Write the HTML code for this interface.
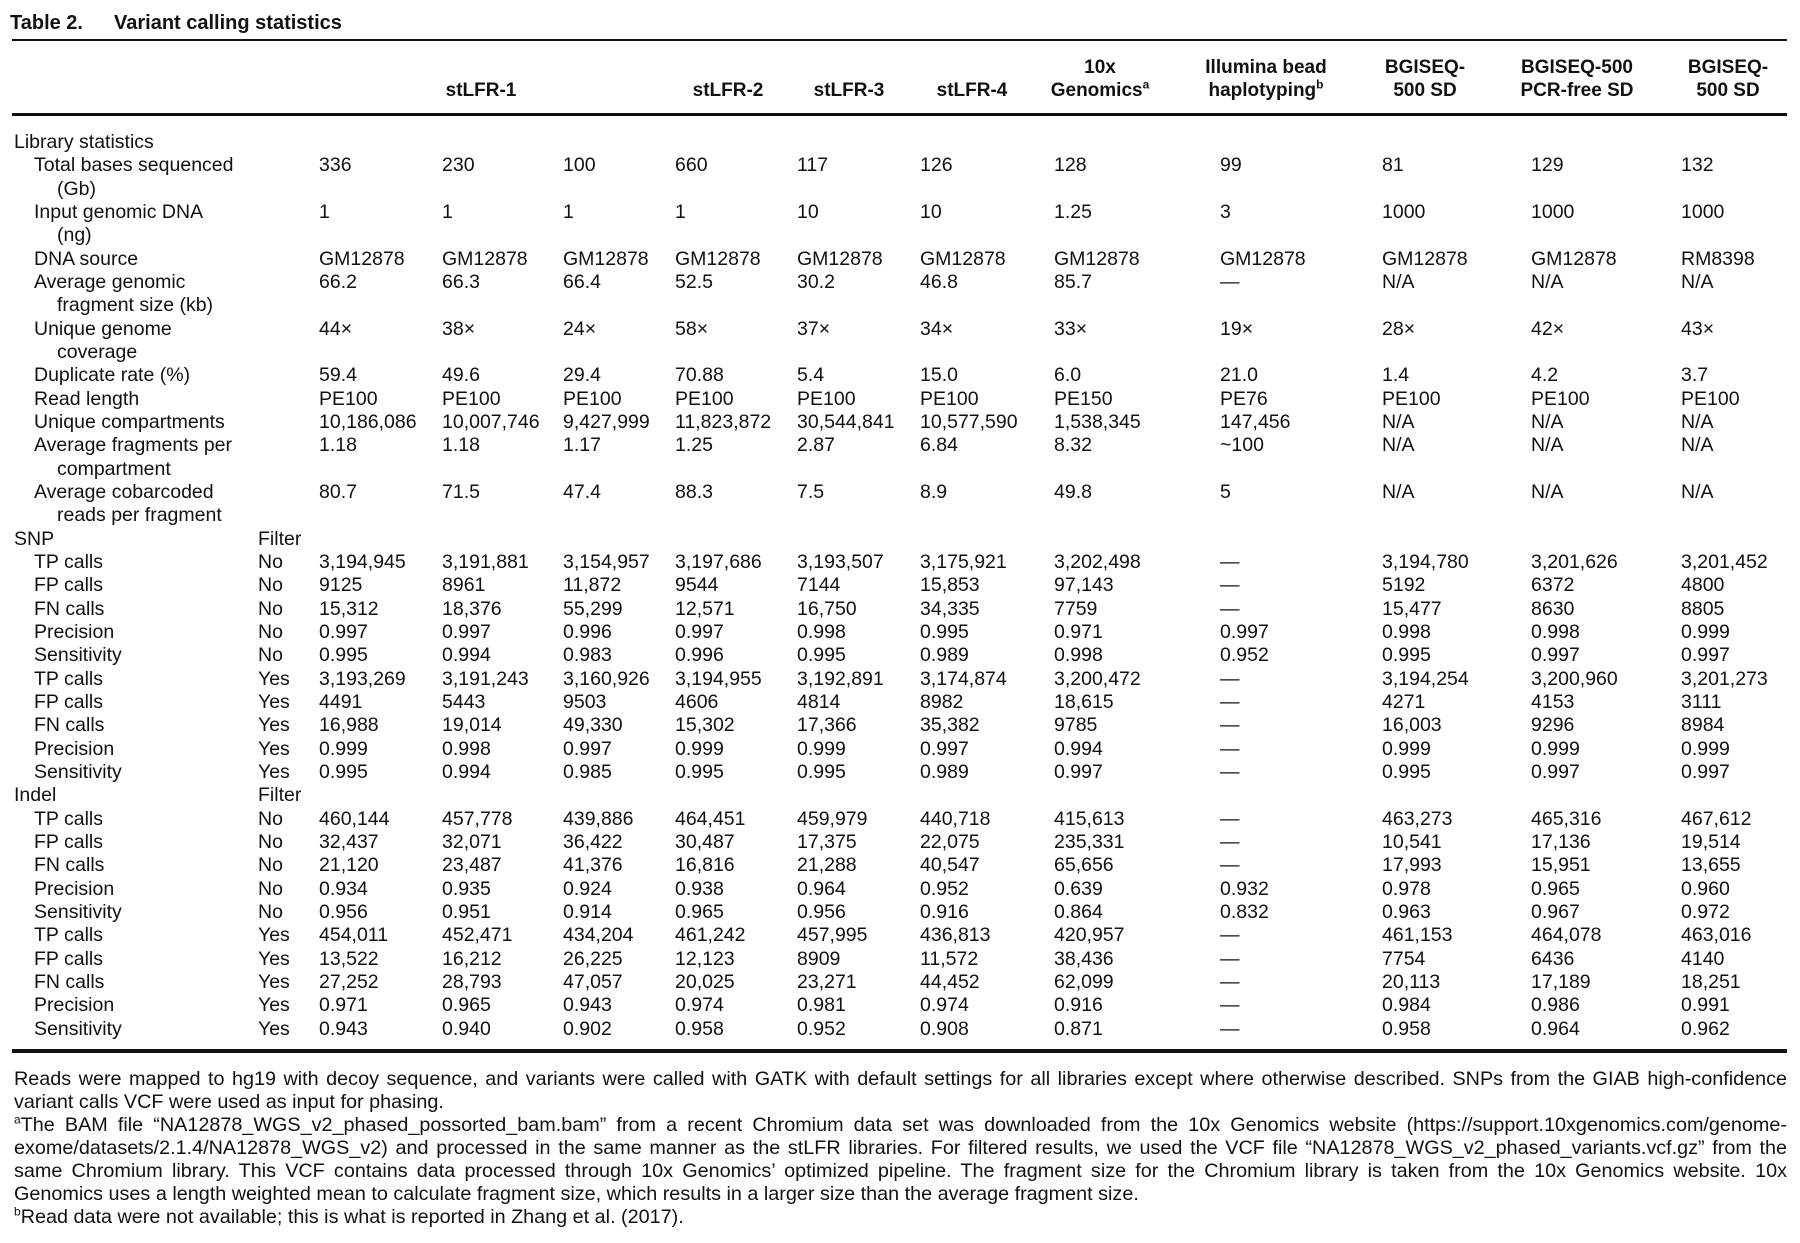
<!DOCTYPE html>
<html><head><meta charset="utf-8"><style>
body{margin:0;background:#fff;}
#p{position:relative;width:1800px;height:1243px;overflow:hidden;font-family:"Liberation Sans",sans-serif;color:#111;font-size:19.5px;}
.r{position:absolute;left:0;width:1800px;height:24px;line-height:24px;white-space:nowrap;}
.r span{position:absolute;top:0;}
.a{left:14px}.b{left:34px}.c{left:57px}.f{left:258px}
.d1{left:319px}.d2{left:442px}.d3{left:563px}.d4{left:675px}.d5{left:797px}.d6{left:920px}.d7{left:1054px}.d8{left:1220px}.d9{left:1382px}.d10{left:1531px}.d11{left:1681px}
.rule{position:absolute;left:12px;width:1775px;background:#111;}
.h{position:absolute;width:220px;text-align:center;font-weight:bold;line-height:24px;white-space:nowrap;font-size:19px;}
.fn{position:absolute;left:14px;width:1773px;font-size:19.8px;line-height:23px;white-space:nowrap;}
.j{text-align:justify;text-align-last:justify;}
sup{font-size:12px;line-height:0;}
</style></head><body><div id="p">
<div style="position:absolute;left:10px;top:10px;font-size:20px;font-weight:bold;line-height:26px;">Table 2.<span style="position:absolute;left:104px;white-space:nowrap;">Variant calling statistics</span></div>
<div class="rule" style="top:39px;height:2px"></div>
<div class="rule" style="top:113px;height:3px"></div>
<div class="rule" style="top:1049px;height:4px"></div>

<div class="h" style="left:371px;top:79px">stLFR-1</div>
<div class="h" style="left:618px;top:79px">stLFR-2</div>
<div class="h" style="left:739px;top:79px">stLFR-3</div>
<div class="h" style="left:862px;top:79px">stLFR-4</div>
<div class="h" style="left:990px;top:56px">10x</div>
<div class="h" style="left:990px;top:79px">Genomics<sup>a</sup></div>
<div class="h" style="left:1156px;top:56px">Illumina bead</div>
<div class="h" style="left:1156px;top:79px">haplotyping<sup>b</sup></div>
<div class="h" style="left:1315px;top:56px">BGISEQ-</div>
<div class="h" style="left:1315px;top:79px">500 SD</div>
<div class="h" style="left:1467px;top:56px">BGISEQ-500</div>
<div class="h" style="left:1467px;top:79px">PCR-free SD</div>
<div class="h" style="left:1618px;top:56px">BGISEQ-</div>
<div class="h" style="left:1618px;top:79px">500 SD</div>

<div class="r" style="top:130px"><span class="a">Library statistics</span></div>
<div class="r" style="top:153px"><span class="b">Total bases sequenced</span><span class="d1">336</span><span class="d2">230</span><span class="d3">100</span><span class="d4">660</span><span class="d5">117</span><span class="d6">126</span><span class="d7">128</span><span class="d8">99</span><span class="d9">81</span><span class="d10">129</span><span class="d11">132</span></div>
<div class="r" style="top:177px"><span class="c">(Gb)</span></div>
<div class="r" style="top:200px"><span class="b">Input genomic DNA</span><span class="d1">1</span><span class="d2">1</span><span class="d3">1</span><span class="d4">1</span><span class="d5">10</span><span class="d6">10</span><span class="d7">1.25</span><span class="d8">3</span><span class="d9">1000</span><span class="d10">1000</span><span class="d11">1000</span></div>
<div class="r" style="top:223px"><span class="c">(ng)</span></div>
<div class="r" style="top:247px"><span class="b">DNA source</span><span class="d1">GM12878</span><span class="d2">GM12878</span><span class="d3">GM12878</span><span class="d4">GM12878</span><span class="d5">GM12878</span><span class="d6">GM12878</span><span class="d7">GM12878</span><span class="d8">GM12878</span><span class="d9">GM12878</span><span class="d10">GM12878</span><span class="d11">RM8398</span></div>
<div class="r" style="top:270px"><span class="b">Average genomic</span><span class="d1">66.2</span><span class="d2">66.3</span><span class="d3">66.4</span><span class="d4">52.5</span><span class="d5">30.2</span><span class="d6">46.8</span><span class="d7">85.7</span><span class="d8">—</span><span class="d9">N/A</span><span class="d10">N/A</span><span class="d11">N/A</span></div>
<div class="r" style="top:293px"><span class="c">fragment size (kb)</span></div>
<div class="r" style="top:317px"><span class="b">Unique genome</span><span class="d1">44×</span><span class="d2">38×</span><span class="d3">24×</span><span class="d4">58×</span><span class="d5">37×</span><span class="d6">34×</span><span class="d7">33×</span><span class="d8">19×</span><span class="d9">28×</span><span class="d10">42×</span><span class="d11">43×</span></div>
<div class="r" style="top:340px"><span class="c">coverage</span></div>
<div class="r" style="top:363px"><span class="b">Duplicate rate (%)</span><span class="d1">59.4</span><span class="d2">49.6</span><span class="d3">29.4</span><span class="d4">70.88</span><span class="d5">5.4</span><span class="d6">15.0</span><span class="d7">6.0</span><span class="d8">21.0</span><span class="d9">1.4</span><span class="d10">4.2</span><span class="d11">3.7</span></div>
<div class="r" style="top:387px"><span class="b">Read length</span><span class="d1">PE100</span><span class="d2">PE100</span><span class="d3">PE100</span><span class="d4">PE100</span><span class="d5">PE100</span><span class="d6">PE100</span><span class="d7">PE150</span><span class="d8">PE76</span><span class="d9">PE100</span><span class="d10">PE100</span><span class="d11">PE100</span></div>
<div class="r" style="top:410px"><span class="b">Unique compartments</span><span class="d1">10,186,086</span><span class="d2">10,007,746</span><span class="d3">9,427,999</span><span class="d4">11,823,872</span><span class="d5">30,544,841</span><span class="d6">10,577,590</span><span class="d7">1,538,345</span><span class="d8">147,456</span><span class="d9">N/A</span><span class="d10">N/A</span><span class="d11">N/A</span></div>
<div class="r" style="top:433px"><span class="b">Average fragments per</span><span class="d1">1.18</span><span class="d2">1.18</span><span class="d3">1.17</span><span class="d4">1.25</span><span class="d5">2.87</span><span class="d6">6.84</span><span class="d7">8.32</span><span class="d8">~100</span><span class="d9">N/A</span><span class="d10">N/A</span><span class="d11">N/A</span></div>
<div class="r" style="top:457px"><span class="c">compartment</span></div>
<div class="r" style="top:480px"><span class="b">Average cobarcoded</span><span class="d1">80.7</span><span class="d2">71.5</span><span class="d3">47.4</span><span class="d4">88.3</span><span class="d5">7.5</span><span class="d6">8.9</span><span class="d7">49.8</span><span class="d8">5</span><span class="d9">N/A</span><span class="d10">N/A</span><span class="d11">N/A</span></div>
<div class="r" style="top:503px"><span class="c">reads per fragment</span></div>
<div class="r" style="top:527px"><span class="a">SNP</span><span class="f">Filter</span></div>
<div class="r" style="top:550px"><span class="b">TP calls</span><span class="f">No</span><span class="d1">3,194,945</span><span class="d2">3,191,881</span><span class="d3">3,154,957</span><span class="d4">3,197,686</span><span class="d5">3,193,507</span><span class="d6">3,175,921</span><span class="d7">3,202,498</span><span class="d8">—</span><span class="d9">3,194,780</span><span class="d10">3,201,626</span><span class="d11">3,201,452</span></div>
<div class="r" style="top:573px"><span class="b">FP calls</span><span class="f">No</span><span class="d1">9125</span><span class="d2">8961</span><span class="d3">11,872</span><span class="d4">9544</span><span class="d5">7144</span><span class="d6">15,853</span><span class="d7">97,143</span><span class="d8">—</span><span class="d9">5192</span><span class="d10">6372</span><span class="d11">4800</span></div>
<div class="r" style="top:597px"><span class="b">FN calls</span><span class="f">No</span><span class="d1">15,312</span><span class="d2">18,376</span><span class="d3">55,299</span><span class="d4">12,571</span><span class="d5">16,750</span><span class="d6">34,335</span><span class="d7">7759</span><span class="d8">—</span><span class="d9">15,477</span><span class="d10">8630</span><span class="d11">8805</span></div>
<div class="r" style="top:620px"><span class="b">Precision</span><span class="f">No</span><span class="d1">0.997</span><span class="d2">0.997</span><span class="d3">0.996</span><span class="d4">0.997</span><span class="d5">0.998</span><span class="d6">0.995</span><span class="d7">0.971</span><span class="d8">0.997</span><span class="d9">0.998</span><span class="d10">0.998</span><span class="d11">0.999</span></div>
<div class="r" style="top:643px"><span class="b">Sensitivity</span><span class="f">No</span><span class="d1">0.995</span><span class="d2">0.994</span><span class="d3">0.983</span><span class="d4">0.996</span><span class="d5">0.995</span><span class="d6">0.989</span><span class="d7">0.998</span><span class="d8">0.952</span><span class="d9">0.995</span><span class="d10">0.997</span><span class="d11">0.997</span></div>
<div class="r" style="top:667px"><span class="b">TP calls</span><span class="f">Yes</span><span class="d1">3,193,269</span><span class="d2">3,191,243</span><span class="d3">3,160,926</span><span class="d4">3,194,955</span><span class="d5">3,192,891</span><span class="d6">3,174,874</span><span class="d7">3,200,472</span><span class="d8">—</span><span class="d9">3,194,254</span><span class="d10">3,200,960</span><span class="d11">3,201,273</span></div>
<div class="r" style="top:690px"><span class="b">FP calls</span><span class="f">Yes</span><span class="d1">4491</span><span class="d2">5443</span><span class="d3">9503</span><span class="d4">4606</span><span class="d5">4814</span><span class="d6">8982</span><span class="d7">18,615</span><span class="d8">—</span><span class="d9">4271</span><span class="d10">4153</span><span class="d11">3111</span></div>
<div class="r" style="top:713px"><span class="b">FN calls</span><span class="f">Yes</span><span class="d1">16,988</span><span class="d2">19,014</span><span class="d3">49,330</span><span class="d4">15,302</span><span class="d5">17,366</span><span class="d6">35,382</span><span class="d7">9785</span><span class="d8">—</span><span class="d9">16,003</span><span class="d10">9296</span><span class="d11">8984</span></div>
<div class="r" style="top:737px"><span class="b">Precision</span><span class="f">Yes</span><span class="d1">0.999</span><span class="d2">0.998</span><span class="d3">0.997</span><span class="d4">0.999</span><span class="d5">0.999</span><span class="d6">0.997</span><span class="d7">0.994</span><span class="d8">—</span><span class="d9">0.999</span><span class="d10">0.999</span><span class="d11">0.999</span></div>
<div class="r" style="top:760px"><span class="b">Sensitivity</span><span class="f">Yes</span><span class="d1">0.995</span><span class="d2">0.994</span><span class="d3">0.985</span><span class="d4">0.995</span><span class="d5">0.995</span><span class="d6">0.989</span><span class="d7">0.997</span><span class="d8">—</span><span class="d9">0.995</span><span class="d10">0.997</span><span class="d11">0.997</span></div>
<div class="r" style="top:783px"><span class="a">Indel</span><span class="f">Filter</span></div>
<div class="r" style="top:807px"><span class="b">TP calls</span><span class="f">No</span><span class="d1">460,144</span><span class="d2">457,778</span><span class="d3">439,886</span><span class="d4">464,451</span><span class="d5">459,979</span><span class="d6">440,718</span><span class="d7">415,613</span><span class="d8">—</span><span class="d9">463,273</span><span class="d10">465,316</span><span class="d11">467,612</span></div>
<div class="r" style="top:830px"><span class="b">FP calls</span><span class="f">No</span><span class="d1">32,437</span><span class="d2">32,071</span><span class="d3">36,422</span><span class="d4">30,487</span><span class="d5">17,375</span><span class="d6">22,075</span><span class="d7">235,331</span><span class="d8">—</span><span class="d9">10,541</span><span class="d10">17,136</span><span class="d11">19,514</span></div>
<div class="r" style="top:853px"><span class="b">FN calls</span><span class="f">No</span><span class="d1">21,120</span><span class="d2">23,487</span><span class="d3">41,376</span><span class="d4">16,816</span><span class="d5">21,288</span><span class="d6">40,547</span><span class="d7">65,656</span><span class="d8">—</span><span class="d9">17,993</span><span class="d10">15,951</span><span class="d11">13,655</span></div>
<div class="r" style="top:877px"><span class="b">Precision</span><span class="f">No</span><span class="d1">0.934</span><span class="d2">0.935</span><span class="d3">0.924</span><span class="d4">0.938</span><span class="d5">0.964</span><span class="d6">0.952</span><span class="d7">0.639</span><span class="d8">0.932</span><span class="d9">0.978</span><span class="d10">0.965</span><span class="d11">0.960</span></div>
<div class="r" style="top:900px"><span class="b">Sensitivity</span><span class="f">No</span><span class="d1">0.956</span><span class="d2">0.951</span><span class="d3">0.914</span><span class="d4">0.965</span><span class="d5">0.956</span><span class="d6">0.916</span><span class="d7">0.864</span><span class="d8">0.832</span><span class="d9">0.963</span><span class="d10">0.967</span><span class="d11">0.972</span></div>
<div class="r" style="top:923px"><span class="b">TP calls</span><span class="f">Yes</span><span class="d1">454,011</span><span class="d2">452,471</span><span class="d3">434,204</span><span class="d4">461,242</span><span class="d5">457,995</span><span class="d6">436,813</span><span class="d7">420,957</span><span class="d8">—</span><span class="d9">461,153</span><span class="d10">464,078</span><span class="d11">463,016</span></div>
<div class="r" style="top:947px"><span class="b">FP calls</span><span class="f">Yes</span><span class="d1">13,522</span><span class="d2">16,212</span><span class="d3">26,225</span><span class="d4">12,123</span><span class="d5">8909</span><span class="d6">11,572</span><span class="d7">38,436</span><span class="d8">—</span><span class="d9">7754</span><span class="d10">6436</span><span class="d11">4140</span></div>
<div class="r" style="top:970px"><span class="b">FN calls</span><span class="f">Yes</span><span class="d1">27,252</span><span class="d2">28,793</span><span class="d3">47,057</span><span class="d4">20,025</span><span class="d5">23,271</span><span class="d6">44,452</span><span class="d7">62,099</span><span class="d8">—</span><span class="d9">20,113</span><span class="d10">17,189</span><span class="d11">18,251</span></div>
<div class="r" style="top:993px"><span class="b">Precision</span><span class="f">Yes</span><span class="d1">0.971</span><span class="d2">0.965</span><span class="d3">0.943</span><span class="d4">0.974</span><span class="d5">0.981</span><span class="d6">0.974</span><span class="d7">0.916</span><span class="d8">—</span><span class="d9">0.984</span><span class="d10">0.986</span><span class="d11">0.991</span></div>
<div class="r" style="top:1017px"><span class="b">Sensitivity</span><span class="f">Yes</span><span class="d1">0.943</span><span class="d2">0.940</span><span class="d3">0.902</span><span class="d4">0.958</span><span class="d5">0.952</span><span class="d6">0.908</span><span class="d7">0.871</span><span class="d8">—</span><span class="d9">0.958</span><span class="d10">0.964</span><span class="d11">0.962</span></div>

<div class="fn j" style="top:1068px">Reads were mapped to hg19 with decoy sequence, and variants were called with GATK with default settings for all libraries except where otherwise described. SNPs from the GIAB high-confidence</div>
<div class="fn" style="top:1091px">variant calls VCF were used as input for phasing.</div>
<div class="fn j" style="top:1114px"><sup>a</sup>The BAM file “NA12878_WGS_v2_phased_possorted_bam.bam” from a recent Chromium data set was downloaded from the 10x Genomics website (https://support.10xgenomics.com/genome-</div>
<div class="fn j" style="top:1137px">exome/datasets/2.1.4/NA12878_WGS_v2) and processed in the same manner as the stLFR libraries. For filtered results, we used the VCF file “NA12878_WGS_v2_phased_variants.vcf.gz” from the</div>
<div class="fn j" style="top:1160px">same Chromium library. This VCF contains data processed through 10x Genomics’ optimized pipeline. The fragment size for the Chromium library is taken from the 10x Genomics website. 10x</div>
<div class="fn" style="top:1183px">Genomics uses a length weighted mean to calculate fragment size, which results in a larger size than the average fragment size.</div>
<div class="fn" style="top:1206px"><sup>b</sup>Read data were not available; this is what is reported in Zhang et al. (2017).</div>
</div></body></html>
